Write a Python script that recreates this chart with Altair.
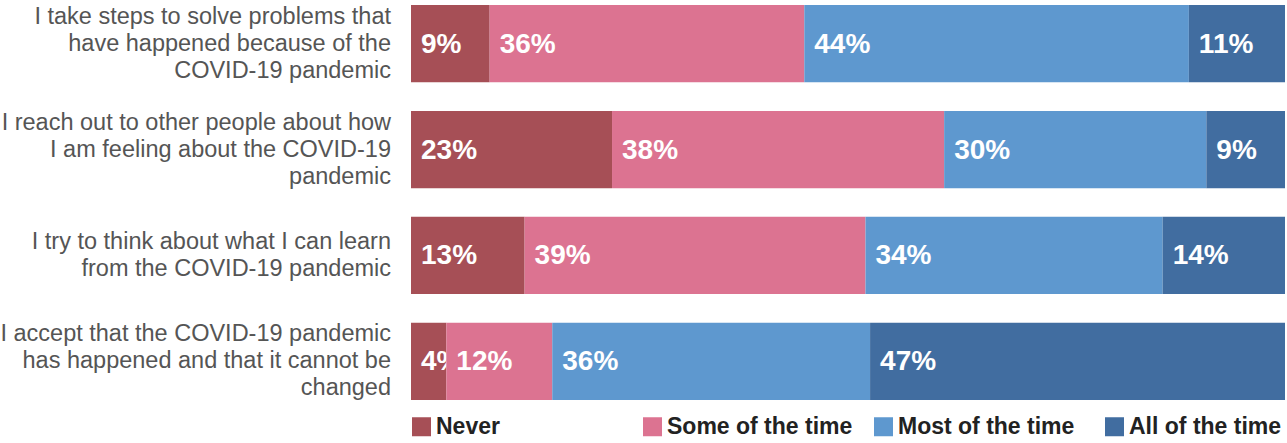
import altair as alt
import pandas as pd

items = [
    "I take steps to solve problems that|have happened because of the|COVID-19 pandemic",
    "I reach out to other people about how|I am feeling about the COVID-19|pandemic",
    "I try to think about what I can learn|from the COVID-19 pandemic",
    "I accept that the COVID-19 pandemic|has happened and that it cannot be|changed",
]
cats = ["Never", "Some of the time", "Most of the time", "All of the time"]
colors = ["#a64f56", "#dc7391", "#5e98cf", "#416da0"]

never = [9, 23, 13, 4]
some = [36, 38, 39, 12]
most = [44, 30, 34, 36]
all_time = [11, 9, 14, 47]

rows = []
for i, it in enumerate(items):
    for j, (c, vals) in enumerate(zip(cats, [never, some, most, all_time])):
        rows.append({"item": it, "cat": c, "order": j, "value": vals[i], "label": f"{vals[i]}%"})
df = pd.DataFrame(rows)
items_df = pd.DataFrame({"item": items})

FONT = "Liberation Sans"
LINE_H = 27

base = alt.Chart(df).transform_stack(
    stack="value",
    groupby=["item"],
    as_=["x0", "x1"],
    sort=[alt.SortField(field="order", order="ascending")],
    offset="normalize",
)

y = alt.Y(
    "item:N",
    sort=items,
    scale=alt.Scale(paddingInner=0.27, paddingOuter=0),
    axis=None,
)
x = alt.X("x0:Q", scale=alt.Scale(domain=[0, 1]), axis=None)

legend = alt.Legend(
    title=None,
    orient="none",
    legendX=-1,
    legendY=410,
    direction="horizontal",
    columns=4,
    gridAlign="all",
    columnPadding=19,
    symbolType="square",
    symbolSize=361,
    symbolStrokeWidth=0,
    symbolOpacity=1,
    labelFontSize=23,
    labelFontWeight="bold",
    labelFont=FONT,
    labelColor="#222222",
    labelOffset=3,
    labelLimit=0,
)

layers = []
for c in cats:
    sub = base.transform_filter(alt.datum.cat == c)
    b = sub.mark_bar(opacity=1).encode(
        x=x,
        x2="x1:Q",
        y=y,
        color=alt.Color("cat:N", scale=alt.Scale(domain=cats, range=colors), legend=legend),
    )
    t = sub.mark_text(
        align="left", baseline="middle", dx=10, dy=1, color="white",
        font=FONT, fontSize=28, fontWeight="bold",
    ).encode(x=x, y=y, text="label:N")
    layers += [b, t]

# category labels on the left (multi-line, vertically centred on each bar)
lab_base = alt.Chart(items_df).transform_calculate(
    nlines="length(split(datum.item, '|'))"
)
for n in (2, 3):
    lab = lab_base.transform_filter(alt.datum.nlines == n).mark_text(
        align="right", baseline="middle", lineBreak="|", lineHeight=LINE_H,
        font=FONT, fontSize=23.5, color="#555555", dy=-(n - 1) * LINE_H / 2,
    ).encode(
        x=alt.value(-20),
        y=y,
        text="item:N",
    )
    layers.append(lab)

chart = alt.layer(*layers).properties(
    width=874,
    height=395,
    autosize=alt.AutoSizeParams(type="none"),
    padding={"left": 411, "top": 5, "right": 2, "bottom": 43},
    background="white",
).configure_view(stroke=None)

chart.save("out.html", embed_options={"renderer": "svg", "actions": False})
